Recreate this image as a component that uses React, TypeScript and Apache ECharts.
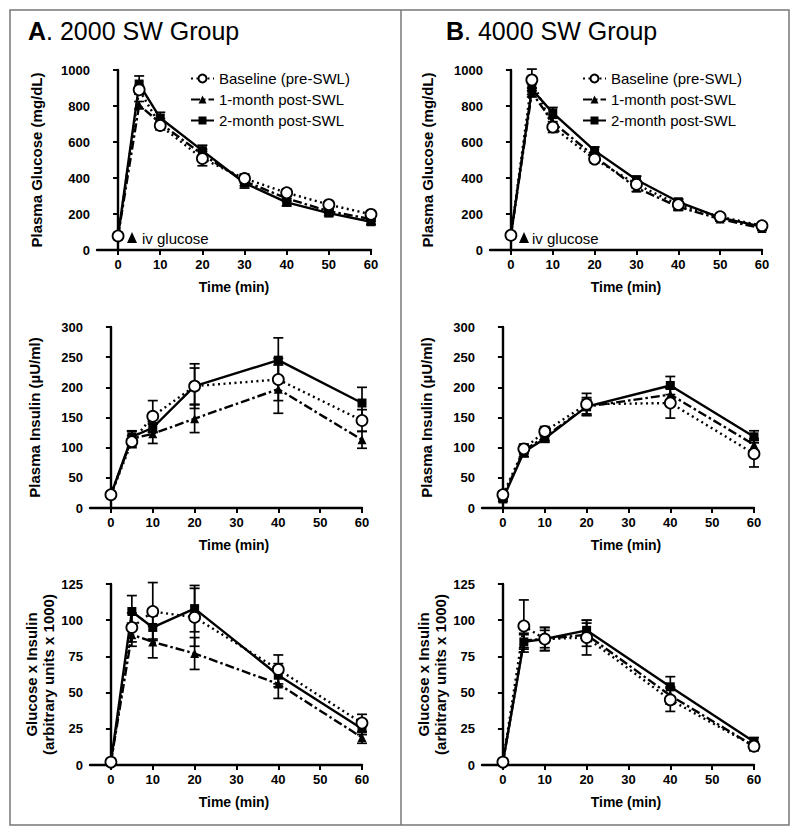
import React, { useEffect, useRef } from "react";
import * as echarts from "echarts";

// ---------- data ----------
const TIME_GLU = [0, 5, 10, 20, 30, 40, 50, 60];
const TIME_INS = [0, 5, 10, 20, 40, 60];
const X_TICKS = [0, 10, 20, 30, 40, 50, 60];

const SERIES_NAMES = ["Baseline (pre-SWL)", "1-month post-SWL", "2-month post-SWL"];

// Panel A (2000 SW) – plasma glucose (mg/dL)
const A_GLU_BASE = [78, 890, 692, 508, 397, 318, 252, 198];
const A_GLU_M1 = [78, 805, 705, 530, 382, 287, 215, 172];
const A_GLU_M2 = [78, 922, 733, 552, 372, 265, 205, 157];
const A_GLU_BASE_ERR = [8, 25, 25, 40, 25, 20, 12, 15];
const A_GLU_M1_ERR = [8, 20, 25, 30, 25, 15, 12, 12];
const A_GLU_M2_ERR = [8, 45, 32, 30, 28, 20, 15, 15];

// Panel B (4000 SW) – plasma glucose (mg/dL)
const B_GLU_BASE = [82, 945, 683, 505, 365, 252, 185, 135];
const B_GLU_M1 = [82, 875, 710, 520, 345, 240, 172, 120];
const B_GLU_M2 = [82, 893, 762, 552, 390, 268, 180, 130];
const B_GLU_BASE_ERR = [8, 60, 30, 20, 20, 30, 12, 15];
const B_GLU_M1_ERR = [8, 25, 25, 20, 20, 20, 12, 12];
const B_GLU_M2_ERR = [8, 30, 30, 20, 20, 15, 12, 12];

// Panel A – plasma insulin (µU/ml)
const A_INS_BASE = [22, 110, 152, 202, 213, 145];
const A_INS_M1 = [22, 115, 123, 148, 197, 113];
const A_INS_M2 = [22, 118, 133, 202, 245, 174];
const A_INS_BASE_ERR = [3, 10, 26, 30, 35, 18];
const A_INS_M1_ERR = [3, 12, 16, 23, 40, 14];
const A_INS_M2_ERR = [3, 10, 8, 37, 37, 26];

// Panel B – plasma insulin (µU/ml)
const B_INS_BASE = [22, 98, 127, 172, 174, 90];
const B_INS_M1 = [18, 95, 118, 168, 188, 105];
const B_INS_M2 = [15, 93, 115, 168, 203, 118];
const B_INS_BASE_ERR = [6, 8, 8, 18, 25, 22];
const B_INS_M1_ERR = [4, 10, 6, 15, 10, 10];
const B_INS_M2_ERR = [4, 8, 6, 12, 15, 10];

// Panel A – glucose x insulin (arbitrary units x 1000)
const A_GXI_BASE = [2, 95, 106, 102, 66, 29];
const A_GXI_M1 = [2, 90, 85, 77, 56, 19];
const A_GXI_M2 = [2, 106, 95, 108, 62, 25];
const A_GXI_BASE_ERR = [0.5, 10, 20, 20, 10, 6];
const A_GXI_M1_ERR = [0.5, 8, 11, 11, 10, 4];
const A_GXI_M2_ERR = [0.5, 11, 8, 16, 8, 4];

// Panel B – glucose x insulin (arbitrary units x 1000)
const B_GXI_BASE = [2, 96, 87, 88, 45, 13];
const B_GXI_M1 = [2, 86, 87, 90, 48, 13];
const B_GXI_M2 = [2, 85, 87, 93, 54, 16];
const B_GXI_BASE_ERR = [0.5, 18, 8, 12, 8, 3];
const B_GXI_M1_ERR = [0.5, 5, 6, 8, 6, 3];
const B_GXI_M2_ERR = [0.5, 5, 8, 7, 7, 3];

// ---------- styling ----------
const FONT = "'Liberation Sans', Arial, Helvetica, sans-serif";
const BLACK = "#000";

const LINE_STYLES: any[] = [
  { type: [2, 3.5], width: 2.4 },
  { type: [9, 3, 2.5, 3], width: 2.4 },
  { type: "solid", width: 2.4 },
];
const SYMBOLS = [
  { symbol: "circle", symbolSize: 11, itemStyle: { color: "#fff", borderColor: BLACK, borderWidth: 1.8 } },
  { symbol: "triangle", symbolSize: 9, itemStyle: { color: BLACK, borderColor: BLACK, borderWidth: 0 } },
  { symbol: "rect", symbolSize: 9, itemStyle: { color: BLACK, borderColor: BLACK, borderWidth: 0 } },
];
const Z_ORDER = [5, 3, 4];

type Panel = {
  grid: { left: number; top: number; width: number; height: number };
  time: number[];
  values: number[][];
  errors: number[][];
  yMax: number;
  yInterval: number;
  yName: string;
  yNameGap: number;
  xNameShift: number;
};

const PANELS: Panel[] = [
  {
    grid: { left: 97, top: 70, width: 274, height: 180 },
    time: TIME_GLU,
    values: [A_GLU_BASE, A_GLU_M1, A_GLU_M2],
    errors: [A_GLU_BASE_ERR, A_GLU_M1_ERR, A_GLU_M2_ERR],
    yMax: 1000, yInterval: 200, yName: "Plasma Glucose (mg/dL)", yNameGap: 52, xNameShift: 0,
  },
  {
    grid: { left: 90, top: 327, width: 272, height: 181 },
    time: TIME_INS,
    values: [A_INS_BASE, A_INS_M1, A_INS_M2],
    errors: [A_INS_BASE_ERR, A_INS_M1_ERR, A_INS_M2_ERR],
    yMax: 300, yInterval: 50, yName: "Plasma Insulin (\u00b5U/ml)", yNameGap: 47, xNameShift: 16,
  },
  {
    grid: { left: 90, top: 584, width: 272, height: 181 },
    time: TIME_INS,
    values: [A_GXI_BASE, A_GXI_M1, A_GXI_M2],
    errors: [A_GXI_BASE_ERR, A_GXI_M1_ERR, A_GXI_M2_ERR],
    yMax: 125, yInterval: 25, yName: "Glucose x Insulin\n(arbitrary units x 1000)", yNameGap: 30, xNameShift: 16,
  },
  {
    grid: { left: 490, top: 70, width: 272, height: 180 },
    time: TIME_GLU,
    values: [B_GLU_BASE, B_GLU_M1, B_GLU_M2],
    errors: [B_GLU_BASE_ERR, B_GLU_M1_ERR, B_GLU_M2_ERR],
    yMax: 1000, yInterval: 200, yName: "Plasma Glucose (mg/dL)", yNameGap: 54, xNameShift: 0,
  },
  {
    grid: { left: 482, top: 327, width: 272, height: 181 },
    time: TIME_INS,
    values: [B_INS_BASE, B_INS_M1, B_INS_M2],
    errors: [B_INS_BASE_ERR, B_INS_M1_ERR, B_INS_M2_ERR],
    yMax: 300, yInterval: 50, yName: "Plasma Insulin (\u00b5U/ml)", yNameGap: 47, xNameShift: 16,
  },
  {
    grid: { left: 482, top: 584, width: 272, height: 181 },
    time: TIME_INS,
    values: [B_GXI_BASE, B_GXI_M1, B_GXI_M2],
    errors: [B_GXI_BASE_ERR, B_GXI_M1_ERR, B_GXI_M2_ERR],
    yMax: 125, yInterval: 25, yName: "Glucose x Insulin\n(arbitrary units x 1000)", yNameGap: 29, xNameShift: 16,
  },
];

function errorRenderItem(params: any, api: any) {
  const x = api.value(0);
  const lo = api.coord([x, api.value(1)]);
  const hi = api.coord([x, api.value(2)]);
  const hw = 5;
  const style = { stroke: BLACK, lineWidth: 1.7 };
  return {
    type: "group",
    children: [
      { type: "line", shape: { x1: lo[0], y1: lo[1], x2: hi[0], y2: hi[1] }, style },
      { type: "line", shape: { x1: lo[0] - hw, y1: lo[1], x2: lo[0] + hw, y2: lo[1] }, style },
      { type: "line", shape: { x1: hi[0] - hw, y1: hi[1], x2: hi[0] + hw, y2: hi[1] }, style },
    ],
  };
}

function buildOption() {
  const grid: any[] = [];
  const xAxis: any[] = [];
  const yAxis: any[] = [];
  const series: any[] = [];

  PANELS.forEach((p, i) => {
    grid.push({ ...p.grid, containLabel: false });
    xAxis.push({
      type: "value",
      gridIndex: i,
      min: -5,
      max: 60,
      interval: 5,
      name: "Time (min)",
      nameLocation: "middle",
      nameGap: 30,
      nameTextStyle: {
        fontFamily: FONT, fontSize: 14, fontWeight: "bold", color: BLACK,
        padding: [0, 0, 0, p.xNameShift],
      },
      axisLine: { show: true, lineStyle: { color: BLACK, width: 2.4 } },
      axisTick: { show: true, inside: false, length: 5, lineStyle: { color: BLACK, width: 2 }, customValues: X_TICKS },
      axisLabel: { fontFamily: FONT, fontSize: 13, fontWeight: "bold", color: BLACK, margin: 8, customValues: X_TICKS },
      splitLine: { show: false },
    });
    yAxis.push({
      type: "value",
      gridIndex: i,
      min: 0,
      max: p.yMax,
      interval: p.yInterval,
      name: p.yName,
      nameLocation: "middle",
      nameRotate: 90,
      nameGap: p.yNameGap,
      nameTextStyle: { fontFamily: FONT, fontSize: 15, fontWeight: "bold", color: BLACK, lineHeight: 17 },
      axisLine: { show: true, lineStyle: { color: BLACK, width: 2.4 } },
      axisTick: { show: true, inside: false, length: 5, lineStyle: { color: BLACK, width: 2 } },
      axisLabel: {
        fontFamily: FONT, fontSize: 13, fontWeight: "bold", color: BLACK, margin: 7,
        formatter: (v: number) => String(v),
      },
      splitLine: { show: false },
    });

    for (let s = 0; s < 3; s++) {
      const vals = p.values[s];
      const errs = p.errors[s];
      series.push({
        type: "custom",
        name: SERIES_NAMES[s] + " SEM",
        xAxisIndex: i,
        yAxisIndex: i,
        z: 2,
        silent: true,
        clip: false,
        renderItem: errorRenderItem,
        encode: { x: 0, y: [1, 2] },
        data: p.time.map((t, k) => [t, vals[k] - errs[k], vals[k] + errs[k]]),
      });
    }
    for (let s = 0; s < 3; s++) {
      series.push({
        type: "line",
        name: SERIES_NAMES[s],
        xAxisIndex: i,
        yAxisIndex: i,
        z: Z_ORDER[s],
        symbol: SYMBOLS[s].symbol,
        symbolSize: SYMBOLS[s].symbolSize,
        showAllSymbol: true,
        itemStyle: SYMBOLS[s].itemStyle,
        lineStyle: { color: BLACK, ...LINE_STYLES[s] },
        data: p.time.map((t, k) => [t, p.values[s][k]]),
      });
    }
  });

  const legendCommon = {
    orient: "vertical",
    top: 66,
    itemWidth: 23,
    itemHeight: 10,
    itemGap: 6,
    selectedMode: false,
    data: SERIES_NAMES,
    textStyle: { fontFamily: FONT, fontSize: 15, color: BLACK },
  };

  const titleText = (x: number, letter: string, rest: string) => ({
    type: "text",
    x,
    y: 18,
    style: {
      text: `{b|${letter}}${rest}`,
      fontFamily: FONT,
      fontSize: 25,
      fill: BLACK,
      rich: { b: { fontFamily: FONT, fontSize: 25, fontWeight: "bold", fill: BLACK } },
    },
  });

  const ivNote = (tx: number, textX: number) => [
    { type: "polygon", shape: { points: [[tx - 5, 243], [tx + 5, 243], [tx, 232]] }, style: { fill: BLACK } },
    {
      type: "text",
      x: textX,
      y: 238,
      style: { text: "iv glucose", fontFamily: FONT, fontSize: 15, fill: BLACK, verticalAlign: "middle" },
    },
  ];

  const graphic: any[] = [
    { type: "rect", shape: { x: 10, y: 10, width: 779, height: 815 }, style: { fill: "none", stroke: "#777", lineWidth: 1.5 } },
    { type: "line", shape: { x1: 401, y1: 10, x2: 401, y2: 825 }, style: { stroke: "#777", lineWidth: 1.5 } },
    titleText(28, "A", ". 2000 SW Group"),
    titleText(446, "B", ". 4000 SW Group"),
    ...ivNote(132, 142),
    ...ivNote(524, 532),
  ];

  return {
    animation: false,
    backgroundColor: "#fff",
    grid,
    xAxis,
    yAxis,
    series,
    legend: [
      { ...legendCommon, left: 185 },
      { ...legendCommon, left: 577 },
    ],
    graphic,
  };
}

export default function App() {
  const ref = useRef<HTMLDivElement>(null);
  useEffect(() => {
    if (!ref.current) return;
    const chart = echarts.init(ref.current, null, { renderer: "svg" });
    chart.setOption(buildOption() as any);
    return () => chart.dispose();
  }, []);
  return (
    <div
      ref={ref}
      style={{ position: "absolute", left: 0, top: 0, width: 800, height: 838, background: "#fff" }}
    />
  );
}
